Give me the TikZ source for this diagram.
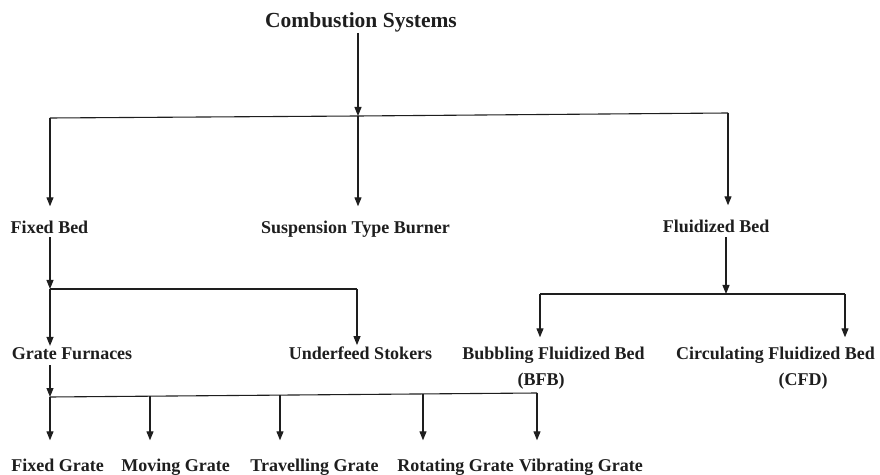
\documentclass[tikz,border=0pt]{standalone}
\usepackage{fontspec}
\setmainfont{Liberation Serif}
\usetikzlibrary{arrows.meta}
\definecolor{ink}{HTML}{1E1E1E}
\begin{document}
\begin{tikzpicture}[x=1pt,y=1pt,
  lbl/.style={font=\fontsize{18}{20}\selectfont\bfseries, inner sep=0pt, anchor=base, text=ink},
  ttl/.style={font=\fontsize{21.5}{24}\selectfont\bfseries, inner sep=0pt, anchor=base, text=ink},
  ln/.style={draw=ink, line width=1.1pt},
  arr/.style={draw=ink, line width=1.1pt, -{Triangle[length=9pt,width=7pt]}}]
\useasboundingbox (0,0) rectangle (880,474);
% labels
\node[ttl] (cs) at (361,446) {Combustion Systems};
\node[lbl] (fixed) at (49.5,240) {Fixed Bed};
\node[lbl] (susp) at (355.5,240) {Suspension Type Burner};
\node[lbl] (fluid) at (716,241) {Fluidized Bed};
\node[lbl] (grate) at (72,114) {Grate Furnaces};
\node[lbl] (under) at (360.5,114) {Underfeed Stokers};
\node[lbl] (bubb) at (553.5,114) {Bubbling Fluidized Bed};
\node[lbl] (bfb) at (541,89) {(BFB)};
\node[lbl] (circ) at (775.5,114) {Circulating Fluidized Bed};
\node[lbl] (cfd) at (803,89) {(CFD)};
\node[lbl] (fg) at (57.5,3) {Fixed Grate};
\node[lbl] (mg) at (175.5,3) {Moving Grate};
\node[lbl] (tg) at (314.5,3) {Travelling Grate};
\node[lbl] (rg) at (455.5,3) {Rotating Grate};
\node[lbl] (vg) at (581,3) {Vibrating Grate};
% junctions
\coordinate (tL) at (50,356);
\coordinate (tM) at (358,358);
\coordinate (tR) at (728,361);
\coordinate (fL) at (50,185);
\coordinate (fR) at (357,185);
\coordinate (uL) at (540,180);
\coordinate (uM) at (726,180);
\coordinate (uR) at (845,180);
\coordinate (gA) at (50,77);
\coordinate (gB) at (150,77.8);
\coordinate (gC) at (280,78.9);
\coordinate (gD) at (423,80.1);
\coordinate (gE) at (537,81);
% level 1
\draw[arr] (cs.south -| tM) -- (tM);
\draw[ln] (tL) -- (tM) -- (tR);
\draw[arr, shorten >=15pt] (tL) -- (tL |- fixed.north);
\draw[arr, shorten >=15pt] (tM) -- (tM |- susp.north);
\draw[arr, shorten >=15pt] (tR) -- (tR |- fluid.north);
% fixed bed
\draw[arr, shorten <=3pt] (fixed.south -| fL) -- (fL);
\draw[ln] (fL) -- (fR);
\draw[arr, shorten >=2pt] (fL) -- (fL |- grate.north);
\draw[arr, shorten >=2pt] (fR) -- (fR |- under.north);
% fluidized bed
\draw[arr, shorten <=4pt] (fluid.south -| uM) -- (uM);
\draw[ln] (uL) -- (uR);
\draw[arr, shorten >=10pt] (uL) -- (uL |- bubb.north);
\draw[arr, shorten >=10pt] (uR) -- (uR |- circ.north);
% grate furnaces
\draw[arr, shorten <=5pt] (grate.south -| gA) -- (gA);
\draw[ln] (gA) -- (gE);
\draw[arr, shorten >=18pt] (gA) -- (gA |- fg.north);
\draw[arr, shorten >=18pt] (gB) -- (gB |- mg.north);
\draw[arr, shorten >=18pt] (gC) -- (gC |- tg.north);
\draw[arr, shorten >=18pt] (gD) -- (gD |- rg.north);
\draw[arr, shorten >=18pt] (gE) -- (gE |- vg.north);
\end{tikzpicture}
\end{document}
